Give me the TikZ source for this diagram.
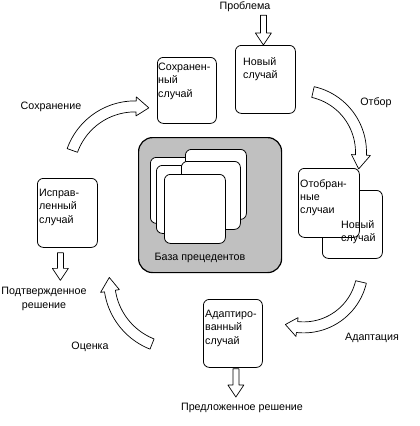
\documentclass[tikz,border=0pt]{standalone}
\usepackage{fontspec}
\setmainfont{Liberation Sans}
\usetikzlibrary{calc}
\definecolor{basegray}{RGB}{192,192,192}

\tikzset{
  casebox/.style={draw, rounded corners=6pt, fill=white, line width=0.8pt,
    minimum width=60, minimum height=68, anchor=north west, inner sep=0pt},
  casetext/.style={anchor=north west, align=left, inner sep=0pt},
  stagename/.style={align=center, inner sep=1pt},
  card/.style={draw, rounded corners=6pt, fill=white, line width=0.8pt,
    anchor=north west, inner sep=0pt},
  blockarrow/.style={draw, fill=white, line width=0.7pt, line join=round}
}

\newcommand{\hollowdown}[2]{%
  \draw[blockarrow] let \p1=(#1), \p2=(#2) in
    (\x1-3pt,\y1) -- (\x1+3pt,\y1) -- (\x1+3pt,\y2+12pt) -- (\x1+8pt,\y2+12pt)
    -- (\x1,\y2) -- (\x1-8pt,\y2+12pt) -- (\x1-3pt,\y2+12pt) -- cycle;}

\newcommand{\bentarrow}[6]{%
  \draw[blockarrow]
    plot[domain=#4:#5, samples=25] ({#1+(#3+5.5)*cos(\x)}, {#2+(#3+5.5)*sin(\x)})
    -- ({#1+(#3+9.5)*cos(#5)}, {#2+(#3+9.5)*sin(#5)})
    -- ({#1+#3*cos(#6)}, {#2+#3*sin(#6)})
    -- ({#1+(#3-9.5)*cos(#5)}, {#2+(#3-9.5)*sin(#5)})
    -- plot[domain=#5:#4, samples=25] ({#1+(#3-5.5)*cos(\x)}, {#2+(#3-5.5)*sin(\x)})
    -- cycle;}

\begin{document}
\begin{tikzpicture}[x=1pt, y=-1pt, font=\fontsize{10.7}{13.3}\selectfont]
    \path[use as bounding box, fill=white] (0,0) rectangle (420,426);

    \node[draw, fill=basegray, rounded corners=14pt, line width=1.2pt,
      minimum width=143, minimum height=135, anchor=north west] (base) at (138,137) {};
    \node[card, minimum width=55, minimum height=66] (carda) at (150,157) {};
    \node[card, minimum width=61, minimum height=70] (cardb) at (185,149) {};
    \node[card, minimum width=45, minimum height=68] (cardc) at (156,165) {};
    \node[card, minimum width=59, minimum height=68] (cardd) at (181,161) {};
    \node[card, minimum width=61, minimum height=69] (carde) at (164,174) {};
    \node (basetxt) at (200,258) {База прецедентов};

    \node[casebox, minimum width=59, minimum height=66] (saved) at (157,57) {};
    \node[casetext] (savedtxt) at ($(saved.north west)+(1,6)$) {Сохранен-\\ный\\случай};

    \node[casebox] (new) at (235,45) {};
    \node[casetext] (newtxt) at ($(new.north west)+(8,12)$) {Новый\\случай};

    \node[casebox] (newb) at (322,190) {};
    \node[casebox, minimum width=61, minimum height=69] (selected) at (298,168) {};
    \node[casetext] (selectedtxt) at ($(selected.north west)+(2,11)$) {Отобран-\\ные\\случаи};
    \node[casetext] (newbtxt) at ($(newb.north west)+(19,30)$) {Новый\\случай};

    \node[casebox, minimum height=69] (fixed) at (37,178) {};
    \node[casetext] (fixedtxt) at ($(fixed.north west)+(2,11)$) {Исправ-\\ленный\\случай};

    \node[casebox, minimum width=59] (adapted) at (203,299) {};
    \node[casetext] (adaptedtxt) at ($(adapted.north west)+(2,11)$) {Адаптиро-\\ванный\\случай};

    \node[stagename] (problem) at (245,7) {Проблема};
    \node[stagename] (keep) at (51,107) {Сохранение};
    \node[stagename] (pick) at (376,103) {Отбор};
    \node[stagename] (confirmed) at (44,299) {Подтвержденное\\решение};
    \node[stagename] (review) at (90,347) {Оценка};
    \node[stagename] (adapt) at (372,338) {Адаптация};
    \node[stagename] (proposed) at (242,408) {Предложенное решение};

    \hollowdown{$(problem.south -| new.north)+(-2,2)$}{new.north}
    \hollowdown{$(fixed.south)+(-7,5)$}{$(confirmed.north)+(0,-6)$}
    \hollowdown{$(adapted.south)+(3,1)$}{$(proposed.north)+(0,-5)$}

    \bentarrow{135}{173}{66.6}{199.8}{271}{282}
    \bentarrow{299.3}{152.2}{61.7}{-77.2}{2.6}{15.7}
    \bentarrow{303.6}{268.4}{59}{13.3}{96.4}{108}
    \bentarrow{177}{281}{67.8}{111.6}{171.5}{183}
\end{tikzpicture}
\end{document}
